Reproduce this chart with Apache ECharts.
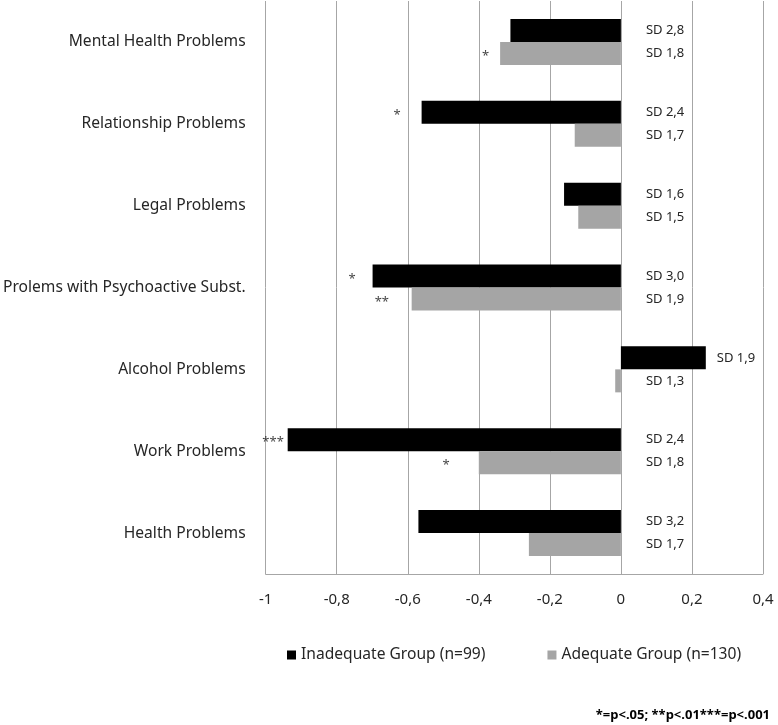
<!DOCTYPE html>
<html>
<head>
<meta charset="utf-8">
<script src="https://cdn.jsdelivr.net/npm/echarts@6/dist/echarts.min.js"></script>
<style>
html,body{margin:0;padding:0;background:#fff;}
#chart{width:778px;height:725px;}
</style>
</head>
<body>
<div id="chart"></div>
<script>
// ---- data ----
var categories = ['Mental Health Problems','Relationship Problems','Legal Problems','Prolems with Psychoactive Subst.','Alcohol Problems','Work Problems','Health Problems'];
var inadequateValues = [-0.311, -0.561, -0.160, -0.699, 0.239, -0.938, -0.570];
var adequateValues   = [-0.340, -0.130, -0.120, -0.589, -0.016, -0.400, -0.259];
var inadequateSD = ['SD 2,8','SD 2,4','SD 1,6','SD 3,0','SD 1,9','SD 2,4','SD 3,2'];
var adequateSD   = ['SD 1,8','SD 1,7','SD 1,5','SD 1,9','SD 1,3','SD 1,8','SD 1,7'];
var inadequateStars = ['', '*', '', '*', '', '***', ''];
var adequateStars   = ['*', '', '', '**', '', '*', ''];
var inadequateStarX = [null, -0.630, null, -0.757, null, -0.979, null];
var adequateStarX   = [-0.381, null, null, -0.673, null, -0.492, null];
var xTickLabels = {'-1':'-1','-0.8':'-0,8','-0.6':'-0,6','-0.4':'-0,4','-0.2':'-0,2','0':'0','0.2':'0,2','0.4':'0,4'};
var seriesNames = ['Inadequate Group (n=99)','Adequate Group (n=130)'];
var footnote = '*=p<.05; **p<.01***=p<.001';

var FONT = 'Noto Sans';
var TXT = '#262626';

function barData(vals, sds) {
  return vals.map(function (v, i) {
    return { value: v, sd: sds[i], label: { distance: v > 0 ? 11 : 25 } };
  });
}
function starData(xs, stars) {
  var out = [];
  xs.forEach(function (x, i) {
    if (x !== null && stars[i]) out.push({ value: [x, categories[i]], star: stars[i] });
  });
  return out;
}
function starSeries(xs, stars, dy) {
  return {
    type: 'scatter', data: starData(xs, stars), symbolSize: 1,
    itemStyle: { color: 'rgba(0,0,0,0)' }, silent: true, z: 5,
    label: { show: true, position: 'inside', offset: [0, dy],
      formatter: function (p) { return p.data.star; },
      fontFamily: FONT, fontSize: 13, color: '#111' }
  };
}

var chart = echarts.init(document.getElementById('chart'));
chart.setOption({
  animation: false,
  backgroundColor: '#fff',
  grid: { left: 265, right: 15, top: 1, bottom: 151, containLabel: false },
  xAxis: {
    type: 'value', min: -1, max: 0.4, interval: 0.2,
    axisLine: { show: true, lineStyle: { color: '#a6a6a6', width: 1 } },
    axisTick: { show: false },
    splitLine: { show: true, lineStyle: { color: '#a6a6a6', width: 1 } },
    axisLabel: { margin: 18, fontFamily: FONT, fontSize: 15, color: TXT,
      formatter: function (v) { var k = String(Math.round(v * 10) / 10); return xTickLabels[k] !== undefined ? xTickLabels[k] : k; } }
  },
  yAxis: {
    type: 'category', data: categories, inverse: true,
    axisLine: { show: false }, axisTick: { show: false },
    axisLabel: { margin: 20, fontFamily: FONT, fontSize: 15.6, color: TXT }
  },
  legend: {
    data: seriesNames, left: 282, top: 642, itemWidth: 9, itemHeight: 9, itemGap: 62,
    icon: 'rect', textStyle: { fontFamily: FONT, fontSize: 15.6, color: TXT }
  },
  graphic: [{
    type: 'text', right: 8, top: 709,
    style: { text: footnote, fontFamily: FONT, fontSize: 13, fontWeight: 'bold', fill: '#000' }
  }],
  series: [
    { name: seriesNames[0], type: 'bar', data: barData(inadequateValues, inadequateSD),
      barWidth: 23, barGap: '0%', itemStyle: { color: '#000000' },
      label: { show: true, position: 'right', formatter: function (p) { return p.data.sd; },
        fontFamily: FONT, fontSize: 13, color: TXT } },
    { name: seriesNames[1], type: 'bar', data: barData(adequateValues, adequateSD),
      barWidth: 23, barGap: '0%', itemStyle: { color: '#a5a5a5' },
      label: { show: true, position: 'right', formatter: function (p) { return p.data.sd; },
        fontFamily: FONT, fontSize: 13, color: TXT } },
    starSeries(inadequateStarX, inadequateStars, -8.5),
    starSeries(adequateStarX, adequateStars, 14.5)
  ]
});
</script>
</body>
</html>
